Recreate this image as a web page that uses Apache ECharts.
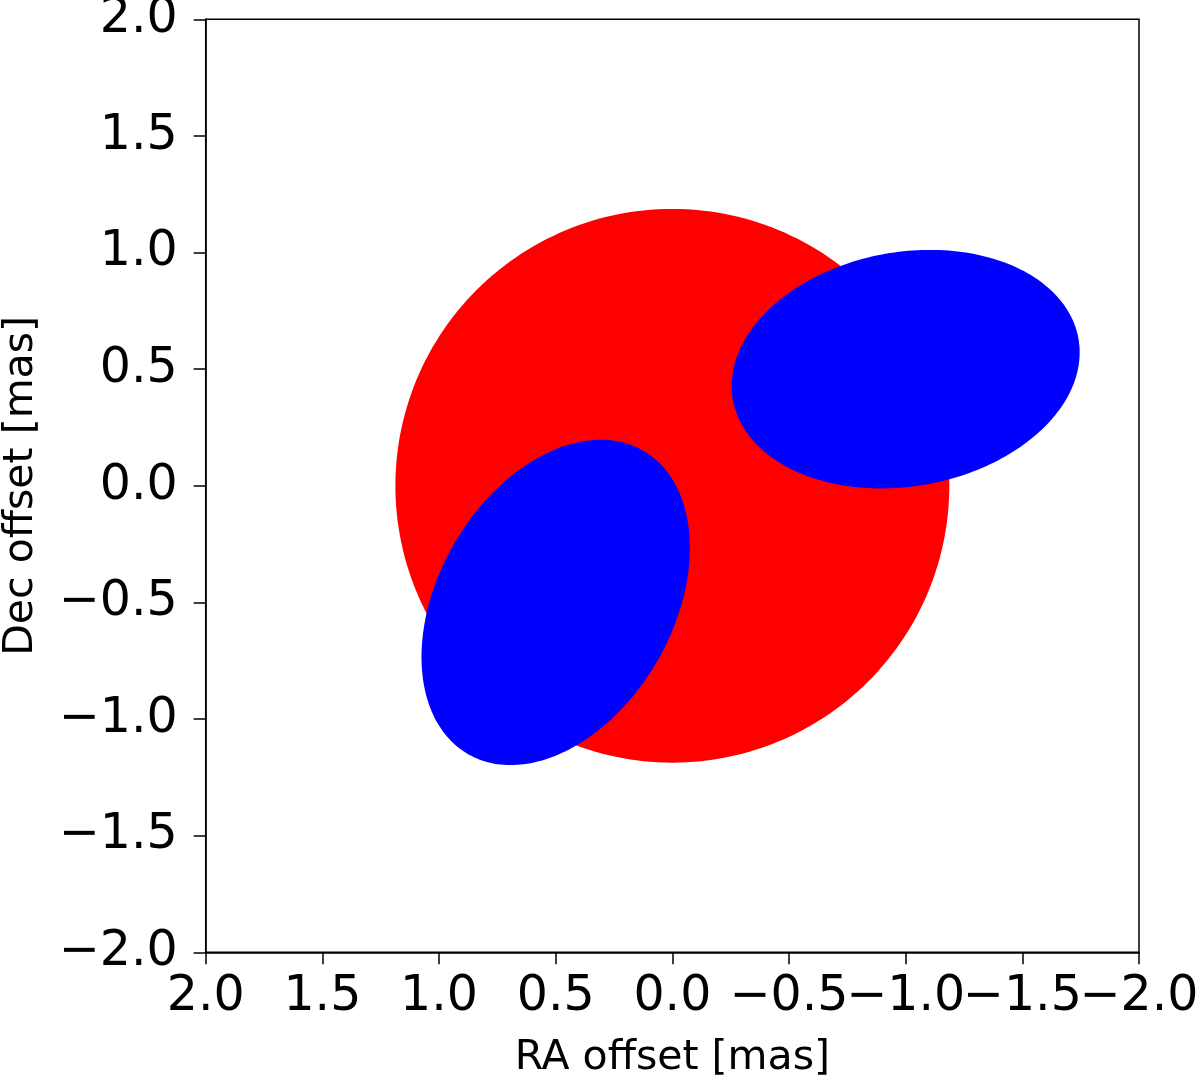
<!DOCTYPE html>
<html>
<head>
<meta charset="utf-8">
<script src="https://cdn.jsdelivr.net/npm/echarts@6/dist/echarts.min.js"></script>
<style>
  html, body { margin: 0; padding: 0; background: #fff; }
  #chart { width: 1200px; height: 1080px; }
</style>
</head>
<body>
<div id="chart"></div>
<script>
// ---- data (mas) ----
const componentNames = ['Primary', 'Companion 1', 'Companion 2'];
const centerRA  = [0.0, -1.0, 0.5];     // RA offset of centre
const centerDec = [0.0, 0.5, -0.5];     // Dec offset of centre
const semiMajor = [1.187, 0.752, 0.751];
const semiMinor = [1.187, 0.502, 0.503];
const posAngle  = [0, 100, 150];        // degrees, North through East
const axisTicks = [-2.0, -1.5, -1.0, -0.5, 0.0, 0.5, 1.0, 1.5, 2.0];

// ---- styles ----
const componentColors = ['#ff0000', '#0000ff', '#0000ff'];
const FONT = 'DejaVu Sans';

const seriesData = componentNames.map((n, i) => ({
  name: n,
  value: [centerRA[i], centerDec[i], semiMajor[i], semiMinor[i], posAngle[i]],
  itemStyle: { color: componentColors[i] }
}));

function fmt(v) {
  const s = Math.abs(v).toFixed(1);
  return (v < 0 ? '\u2212' : '') + s;
}
// the label next to the max end is drawn by an overlay axis so ECharts'
// min/max overlap check does not drop it
const overlayTick = axisTicks[1];
function fmtMain(v) { return Math.abs(v - overlayTick) < 1e-9 ? '' : fmt(v); }
function fmtOverlay(v) { return Math.abs(v - overlayTick) < 1e-9 ? fmt(v) : ''; }

const labelBase = { show: true, fontFamily: FONT, fontSize: 49, color: '#000',
                    showMinLabel: true, showMaxLabel: true, hideOverlap: false };
const xCommon = {
  type: 'value', inverse: true, gridIndex: 0, position: 'bottom',
  min: axisTicks[0], max: axisTicks[axisTicks.length - 1], interval: 0.5,
  splitLine: { show: false }
};

const chart = echarts.init(document.getElementById('chart'), null, { renderer: 'canvas' });

chart.setOption({
  animation: false,
  backgroundColor: '#ffffff',
  grid: {
    left: 205.7, top: 19.3, right: 61, bottom: 127.7,
    show: true, borderColor: '#000', borderWidth: 1.5,
    containLabel: false, outerBoundsMode: 'none'
  },
  xAxis: [
    Object.assign({}, xCommon, {
      name: 'RA offset [mas]', nameLocation: 'middle', nameGap: 86,
      nameTextStyle: { fontFamily: FONT, fontSize: 41, color: '#000' },
      axisLine: { show: true, onZero: false, lineStyle: { color: '#000', width: 1.5 } },
      axisTick: { show: true, inside: false, length: 12, lineStyle: { color: '#000', width: 1.5 } },
      axisLabel: Object.assign({}, labelBase, { margin: 20, formatter: fmtMain })
    }),
    Object.assign({}, xCommon, {
      axisLine: { show: false, onZero: false },
      axisTick: { show: false },
      axisLabel: Object.assign({}, labelBase, { margin: 20, formatter: fmtOverlay })
    })
  ],
  yAxis: {
    type: 'value',
    min: axisTicks[0], max: axisTicks[axisTicks.length - 1], interval: 0.5,
    name: 'Dec offset [mas]', nameLocation: 'middle', nameGap: 164, nameRotate: 90,
    nameTextStyle: { fontFamily: FONT, fontSize: 41, color: '#000' },
    axisLine: { show: true, onZero: false, lineStyle: { color: '#000', width: 1.5 } },
    axisTick: { show: true, inside: false, length: 12, lineStyle: { color: '#000', width: 1.5 } },
    axisLabel: Object.assign({}, labelBase, { margin: 28, formatter: fmt }),
    splitLine: { show: false }
  },
  series: [{
    type: 'custom',
    coordinateSystem: 'cartesian2d',
    xAxisIndex: 0, yAxisIndex: 0,
    clip: true,
    silent: true,
    encode: { x: 0, y: 1 },
    data: seriesData,
    renderItem: function (params, api) {
      const ra = api.value(0), dec = api.value(1);
      const a = api.value(2), b = api.value(3);
      const pa = api.value(4) * Math.PI / 180;
      // major-axis unit vector (RA, Dec) and perpendicular minor-axis vector
      const ux = Math.sin(pa), uy = Math.cos(pa);
      const vx = Math.cos(pa), vy = -Math.sin(pa);
      const pts = [];
      const N = 240;
      for (let k = 0; k < N; k++) {
        const t = 2 * Math.PI * k / N;
        const c = Math.cos(t), s = Math.sin(t);
        pts.push(api.coord([ra + a * c * ux + b * s * vx, dec + a * c * uy + b * s * vy]));
      }
      return {
        type: 'polygon',
        shape: { points: pts },
        style: { fill: api.visual('color'), stroke: null }
      };
    }
  }]
});
</script>
</body>
</html>
